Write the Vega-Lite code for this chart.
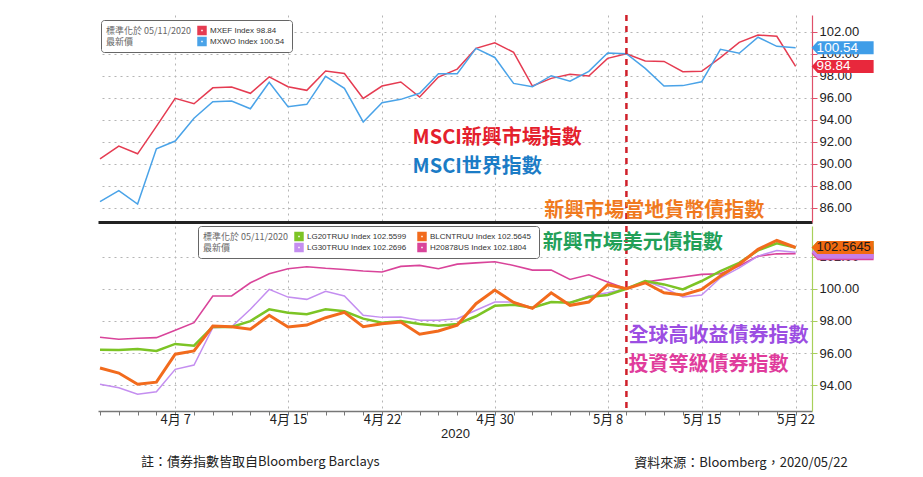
{
  "$schema": "https://vega.github.io/schema/vega-lite/v6.json",
  "background": "white",
  "padding": {"left": 94, "top": 13, "right": 0, "bottom": 0},
  "config": {
    "view": {"stroke": null},
    "font": "Liberation Sans",
    "axis": {"labelOverlap": false},
    "concat": {"spacing": 0}
  },
  "datasets": {
    "equity": [
      {"date": "2020-04-01", "MXEF": 90.43, "MXWO": 86.55},
      {"date": "2020-04-02", "MXEF": 91.60, "MXWO": 87.55},
      {"date": "2020-04-03", "MXEF": 90.90, "MXWO": 86.33},
      {"date": "2020-04-06", "MXEF": 93.40, "MXWO": 91.36},
      {"date": "2020-04-07", "MXEF": 95.94, "MXWO": 92.06},
      {"date": "2020-04-08", "MXEF": 95.45, "MXWO": 94.13},
      {"date": "2020-04-09", "MXEF": 96.90, "MXWO": 95.64},
      {"date": "2020-04-10", "MXEF": 96.97, "MXWO": 95.70},
      {"date": "2020-04-13", "MXEF": 96.40, "MXWO": 95.00},
      {"date": "2020-04-14", "MXEF": 97.90, "MXWO": 97.40},
      {"date": "2020-04-15", "MXEF": 97.00, "MXWO": 95.18},
      {"date": "2020-04-16", "MXEF": 96.67, "MXWO": 95.40},
      {"date": "2020-04-17", "MXEF": 98.43, "MXWO": 97.94},
      {"date": "2020-04-20", "MXEF": 98.20, "MXWO": 96.85},
      {"date": "2020-04-21", "MXEF": 95.94, "MXWO": 93.80},
      {"date": "2020-04-22", "MXEF": 97.06, "MXWO": 95.55},
      {"date": "2020-04-23", "MXEF": 97.43, "MXWO": 95.85},
      {"date": "2020-04-24", "MXEF": 96.06, "MXWO": 96.40},
      {"date": "2020-04-27", "MXEF": 97.88, "MXWO": 98.18},
      {"date": "2020-04-28", "MXEF": 98.60, "MXWO": 98.18},
      {"date": "2020-04-29", "MXEF": 100.49, "MXWO": 100.49},
      {"date": "2020-04-30", "MXEF": 100.99, "MXWO": 99.66},
      {"date": "2020-05-01", "MXEF": 100.13, "MXWO": 97.30},
      {"date": "2020-05-04", "MXEF": 97.06, "MXWO": 97.00},
      {"date": "2020-05-05", "MXEF": 97.76, "MXWO": 98.00},
      {"date": "2020-05-06", "MXEF": 98.13, "MXWO": 97.50},
      {"date": "2020-05-07", "MXEF": 97.97, "MXWO": 98.40},
      {"date": "2020-05-08", "MXEF": 99.58, "MXWO": 100.06},
      {"date": "2020-05-11", "MXEF": 100.00, "MXWO": 100.00},
      {"date": "2020-05-12", "MXEF": 99.34, "MXWO": 98.67},
      {"date": "2020-05-13", "MXEF": 99.30, "MXWO": 97.06},
      {"date": "2020-05-14", "MXEF": 98.37, "MXWO": 97.10},
      {"date": "2020-05-15", "MXEF": 98.40, "MXWO": 97.45},
      {"date": "2020-05-18", "MXEF": 99.64, "MXWO": 100.40},
      {"date": "2020-05-19", "MXEF": 101.03, "MXWO": 100.04},
      {"date": "2020-05-20", "MXEF": 101.70, "MXWO": 101.50},
      {"date": "2020-05-21", "MXEF": 101.58, "MXWO": 100.67},
      {"date": "2020-05-22", "MXEF": 98.84, "MXWO": 100.54}
    ],
    "bonds": [
      {"date": "2020-04-01", "H20878US": 96.98, "LG30TRUU": 94.06, "LG20TRUU": 96.21, "BLCNTRUU": 95.07},
      {"date": "2020-04-02", "H20878US": 96.86, "LG30TRUU": 93.85, "LG20TRUU": 96.19, "BLCNTRUU": 94.76},
      {"date": "2020-04-03", "H20878US": 96.92, "LG30TRUU": 93.44, "LG20TRUU": 96.25, "BLCNTRUU": 94.06},
      {"date": "2020-04-06", "H20878US": 96.96, "LG30TRUU": 93.60, "LG20TRUU": 96.13, "BLCNTRUU": 94.19},
      {"date": "2020-04-07", "H20878US": 97.42, "LG30TRUU": 94.99, "LG20TRUU": 96.57, "BLCNTRUU": 95.93},
      {"date": "2020-04-08", "H20878US": 97.89, "LG30TRUU": 95.26, "LG20TRUU": 96.46, "BLCNTRUU": 96.13},
      {"date": "2020-04-09", "H20878US": 99.55, "LG30TRUU": 97.58, "LG20TRUU": 97.64, "BLCNTRUU": 97.68},
      {"date": "2020-04-10", "H20878US": 99.55, "LG30TRUU": 97.64, "LG20TRUU": 97.62, "BLCNTRUU": 97.64},
      {"date": "2020-04-13", "H20878US": 100.37, "LG30TRUU": 98.72, "LG20TRUU": 97.99, "BLCNTRUU": 97.48},
      {"date": "2020-04-14", "H20878US": 100.93, "LG30TRUU": 99.96, "LG20TRUU": 98.72, "BLCNTRUU": 98.35},
      {"date": "2020-04-15", "H20878US": 101.24, "LG30TRUU": 99.48, "LG20TRUU": 98.51, "BLCNTRUU": 97.62},
      {"date": "2020-04-16", "H20878US": 101.37, "LG30TRUU": 99.34, "LG20TRUU": 98.41, "BLCNTRUU": 97.74},
      {"date": "2020-04-17", "H20878US": 101.27, "LG30TRUU": 99.84, "LG20TRUU": 98.72, "BLCNTRUU": 98.20},
      {"date": "2020-04-20", "H20878US": 101.20, "LG30TRUU": 99.55, "LG20TRUU": 98.60, "BLCNTRUU": 98.53},
      {"date": "2020-04-21", "H20878US": 101.10, "LG30TRUU": 98.35, "LG20TRUU": 98.14, "BLCNTRUU": 97.64},
      {"date": "2020-04-22", "H20878US": 101.04, "LG30TRUU": 98.22, "LG20TRUU": 97.89, "BLCNTRUU": 97.83},
      {"date": "2020-04-23", "H20878US": 101.39, "LG30TRUU": 98.24, "LG20TRUU": 97.99, "BLCNTRUU": 97.93},
      {"date": "2020-04-24", "H20878US": 101.45, "LG30TRUU": 98.04, "LG20TRUU": 97.81, "BLCNTRUU": 97.17},
      {"date": "2020-04-27", "H20878US": 101.24, "LG30TRUU": 98.04, "LG20TRUU": 97.70, "BLCNTRUU": 97.37},
      {"date": "2020-04-28", "H20878US": 101.53, "LG30TRUU": 98.14, "LG20TRUU": 97.81, "BLCNTRUU": 97.74},
      {"date": "2020-04-29", "H20878US": 101.61, "LG30TRUU": 98.66, "LG20TRUU": 98.29, "BLCNTRUU": 99.07},
      {"date": "2020-04-30", "H20878US": 101.68, "LG30TRUU": 99.17, "LG20TRUU": 98.94, "BLCNTRUU": 99.92},
      {"date": "2020-05-01", "H20878US": 101.45, "LG30TRUU": 99.17, "LG20TRUU": 99.00, "BLCNTRUU": 99.15},
      {"date": "2020-05-04", "H20878US": 101.16, "LG30TRUU": 98.82, "LG20TRUU": 98.82, "BLCNTRUU": 98.78},
      {"date": "2020-05-05", "H20878US": 101.16, "LG30TRUU": 99.19, "LG20TRUU": 99.17, "BLCNTRUU": 99.75},
      {"date": "2020-05-06", "H20878US": 100.58, "LG30TRUU": 99.13, "LG20TRUU": 99.13, "BLCNTRUU": 98.97},
      {"date": "2020-05-07", "H20878US": 100.87, "LG30TRUU": 99.55, "LG20TRUU": 99.48, "BLCNTRUU": 99.17},
      {"date": "2020-05-08", "H20878US": 100.42, "LG30TRUU": 99.75, "LG20TRUU": 99.61, "BLCNTRUU": 100.25},
      {"date": "2020-05-11", "H20878US": 100.00, "LG30TRUU": 100.00, "LG20TRUU": 100.00, "BLCNTRUU": 100.00},
      {"date": "2020-05-12", "H20878US": 100.42, "LG30TRUU": 100.48, "LG20TRUU": 100.48, "BLCNTRUU": 100.37},
      {"date": "2020-05-13", "H20878US": 100.58, "LG30TRUU": 100.06, "LG20TRUU": 100.27, "BLCNTRUU": 99.75},
      {"date": "2020-05-14", "H20878US": 100.73, "LG30TRUU": 99.48, "LG20TRUU": 99.96, "BLCNTRUU": 99.61},
      {"date": "2020-05-15", "H20878US": 100.89, "LG30TRUU": 99.61, "LG20TRUU": 100.48, "BLCNTRUU": 99.96},
      {"date": "2020-05-18", "H20878US": 100.93, "LG30TRUU": 100.68, "LG20TRUU": 101.10, "BLCNTRUU": 100.79},
      {"date": "2020-05-19", "H20878US": 101.41, "LG30TRUU": 101.30, "LG20TRUU": 101.61, "BLCNTRUU": 101.52},
      {"date": "2020-05-20", "H20878US": 102.03, "LG30TRUU": 102.03, "LG20TRUU": 102.38, "BLCNTRUU": 102.45},
      {"date": "2020-05-21", "H20878US": 102.17, "LG30TRUU": 102.38, "LG20TRUU": 102.82, "BLCNTRUU": 103.00},
      {"date": "2020-05-22", "H20878US": 102.1804, "LG30TRUU": 102.2696, "LG20TRUU": 102.5599, "BLCNTRUU": 102.5645}
    ],
    "base": [{"date": "2020-05-11"}],
    "notesTop": [
      {"date": "2020-04-24", "value": 92.31, "series": "MXEF", "text": "MSCI新興市場指數"},
      {"date": "2020-04-24", "value": 89.73, "series": "MXWO", "text": "MSCI世界指數"},
      {"date": "2020-05-05", "value": 85.7, "series": "BLCNTRUU", "text": "新興市場當地貨幣債指數"}
    ],
    "notesUsd": [
      {"date": "2020-05-05", "value": 102.86, "series": "LG20TRUU", "text": "新興市場美元債指數"}
    ],
    "notesRight": [
      {"date": "2020-05-11", "value": 97.06, "series": "LG30TRUU", "text": "全球高收益債券指數"},
      {"date": "2020-05-11", "value": 95.25, "series": "H20878US", "text": "投資等級債券指數"}
    ]
  },
  "title": {
    "text": "資料來源：Bloomberg，2020/05/22",
    "orient": "bottom",
    "anchor": "end",
    "font": "Noto Sans CJK TC",
    "fontSize": 13,
    "fontWeight": "normal",
    "color": "#222222",
    "offset": 0,
    "dx": -26,
    "dy": -12
  },
  "vconcat": [
    {
      "width": 714,
      "height": 207,
      "resolve": {"scale": {"color": "independent"}, "axis": {"y": "independent"}},
      "encoding": {
        "x": {
          "field": "date",
          "type": "ordinal",
          "scale": {"type": "point", "padding": 0.489, "align": 0.109},
          "axis": {
            "orient": "bottom",
            "title": null,
            "labels": false,
            "ticks": false,
            "domainColor": "#222222",
            "domainWidth": 3,
            "grid": true,
            "gridColor": "#b5b5b5",
            "gridDash": [2, 4],
            "gridOpacity": {
              "condition": {"test": "indexof(['2020-04-07','2020-04-15','2020-04-22','2020-04-30','2020-05-08','2020-05-15','2020-05-22'], datum.value) >= 0", "value": 1},
              "value": 0
            }
          }
        }
      },
      "layer": [
        {
          "data": {"name": "equity"},
          "transform": [{"fold": ["MXEF", "MXWO"], "as": ["series", "value"]}],
          "mark": {"type": "line", "strokeWidth": 1.5},
          "encoding": {
            "y": {
              "field": "value",
              "type": "quantitative",
              "scale": {"domain": [84.7, 103.52], "nice": false, "zero": false},
              "axis": {
                "orient": "right",
                "title": null,
                "values": [86, 88, 90, 92, 94, 96, 98, 100, 102],
                "format": ".2f",
                "labelOverlap": false,
                "labelFontSize": 13,
                "labelColor": "#222222",
                "labelPadding": 2,
                "domainColor": "#e0506a",
                "domainWidth": 1.2,
                "tickColor": "#e0506a",
                "tickSize": 5,
                "gridColor": "#b5b5b5",
                "gridDash": [2, 4]
              }
            },
            "color": {
              "field": "series",
              "type": "nominal",
              "scale": {"domain": ["MXEF", "MXWO"], "range": ["#e53b51", "#4aa3e8"]},
              "legend": {
                "orient": "none",
                "legendX": 3,
                "legendY": 5,
                "direction": "vertical",
                "title": ["標準化於 05/11/2020", "\u3000\u3000\u3000最新價"],
                "titleOrient": "left",
                "titleAlign": "left",
                "titlePadding": 5,
                "titleFont": "Noto Sans CJK TC",
                "titleFontSize": 9,
                "titleFontWeight": "normal",
                "titleColor": "#666666",
                "titleLineHeight": 11,
                "labelFont": "Liberation Sans",
                "labelFontSize": 8,
                "labelColor": "#333333",
                "labelLimit": 250,
                "labelOffset": 3,
                "labelExpr": "datum.label == 'MXEF' ? 'MXEF Index  98.84' : 'MXWO Index  100.54'",
                "symbolType": "square",
                "symbolSize": 30,
                "symbolStrokeWidth": 4,
                "clipHeight": 11,
                "rowPadding": 0,
                "padding": 5,
                "strokeColor": "#666666",
                "fillColor": "white",
                "cornerRadius": 3
              }
            }
          }
        },
        {
          "data": {"name": "base"},
          "mark": {"type": "rule", "color": "#d0202a", "strokeWidth": 2.5, "strokeDash": [6, 5]},
          "encoding": {}
        },
        {
          "data": {"name": "equity"},
          "transform": [
            {"fold": ["MXWO", "MXEF"], "as": ["series", "value"]},
            {"filter": "datum.date == '2020-05-22'"}
          ],
          "mark": {"type": "point", "shape": "M1.6,0L2.2,-0.65L7.8,-0.65L7.8,0.65L2.2,0.65Z", "size": 400, "filled": true, "opacity": 1, "strokeWidth": 0},
          "encoding": {
            "y": {"field": "value", "type": "quantitative", "axis": null},
            "color": {
              "field": "series",
              "type": "nominal",
              "scale": {"domain": ["MXEF", "MXWO"], "range": ["#e8283c", "#3f9de8"]},
              "legend": null
            }
          }
        },
        {
          "data": {"name": "equity"},
          "transform": [
            {"fold": ["MXWO", "MXEF"], "as": ["series", "value"]},
            {"filter": "datum.date == '2020-05-22'"}
          ],
          "mark": {"type": "text", "align": "left", "baseline": "middle", "dx": 21, "fontSize": 13.5, "color": "white"},
          "encoding": {
            "y": {"field": "value", "type": "quantitative", "axis": null},
            "text": {"field": "value", "type": "quantitative", "format": ".2f"}
          }
        },
        {
          "data": {"name": "notesTop"},
          "mark": {"type": "text", "align": "left", "baseline": "middle", "dx": -7, "font": "Noto Sans CJK TC", "fontWeight": "bold", "fontSize": 20},
          "encoding": {
            "y": {"field": "value", "type": "quantitative", "axis": null},
            "text": {"field": "text"},
            "color": {
              "field": "series",
              "type": "nominal",
              "scale": {"domain": ["MXEF", "MXWO", "BLCNTRUU"], "range": ["#e4202c", "#1b7cc6", "#f07a1e"]},
              "legend": null
            }
          }
        }
      ]
    },
    {
      "width": 714,
      "height": 185,
      "resolve": {"scale": {"color": "independent"}, "axis": {"y": "independent"}},
      "title": {
        "text": "註：債券指數皆取自Bloomberg Barclays",
        "orient": "bottom",
        "anchor": "start",
        "font": "Noto Sans CJK TC",
        "fontSize": 13,
        "fontWeight": "normal",
        "color": "#222222",
        "offset": 16,
        "dx": 47
      },
      "encoding": {
        "x": {
          "field": "date",
          "type": "ordinal",
          "scale": {"type": "point", "padding": 0.489, "align": 0.109},
          "axis": {
            "orient": "bottom",
            "title": "2020",
            "titleFontSize": 13,
            "titleFontWeight": "normal",
            "titleColor": "#222222",
            "titlePadding": 1,
            "labelFont": "Noto Sans CJK TC",
            "labelFontSize": 13,
            "labelColor": "#222222",
            "labelBaseline": "middle",
            "labelPadding": 4,
            "labelOverlap": false,
            "labelAngle": 0,
            "labelExpr": "indexof(['2020-04-07','2020-04-15','2020-04-22','2020-04-30','2020-05-08','2020-05-15','2020-05-22'], datum.value) >= 0 ? toNumber(substring(datum.value, 5, 7)) + '月 ' + toNumber(substring(datum.value, 8, 10)) : ''",
            "ticks": true,
            "tickColor": "#777777",
            "tickSize": 4,
            "domainColor": "#777777",
            "domainWidth": 1.5,
            "grid": true,
            "gridColor": "#b5b5b5",
            "gridDash": [2, 4],
            "gridOpacity": {
              "condition": {"test": "indexof(['2020-04-07','2020-04-15','2020-04-22','2020-04-30','2020-05-08','2020-05-15','2020-05-22'], datum.value) >= 0", "value": 1},
              "value": 0
            }
          }
        }
      },
      "layer": [
        {
          "data": {"name": "bonds"},
          "transform": [{"fold": ["H20878US", "LG30TRUU", "LG20TRUU", "BLCNTRUU"], "as": ["series", "value"]}],
          "mark": {"type": "line"},
          "encoding": {
            "y": {
              "field": "value",
              "type": "quantitative",
              "scale": {"domain": [92.4, 103.9], "nice": false, "zero": false},
              "axis": {
                "orient": "right",
                "title": null,
                "values": [94, 96, 98, 100, 102],
                "format": ".2f",
                "labelOverlap": false,
                "labelFontSize": 13,
                "labelColor": "#222222",
                "labelPadding": 2,
                "domainColor": "#a8d05a",
                "domainWidth": 1.2,
                "tickColor": "#a8d05a",
                "tickSize": 5,
                "gridColor": "#b5b5b5",
                "gridDash": [2, 4]
              }
            },
            "color": {
              "field": "series",
              "type": "nominal",
              "scale": {
                "domain": ["LG20TRUU", "BLCNTRUU", "LG30TRUU", "H20878US"],
                "range": ["#7cc425", "#f26b1d", "#c48ef0", "#d9449a"]
              },
              "legend": {
                "orient": "none",
                "legendX": 100,
                "legendY": 0,
                "direction": "horizontal",
                "columns": 2,
                "columnPadding": 8,
                "title": ["標準化於 05/11/2020", "\u3000\u3000\u3000最新價"],
                "titleOrient": "left",
                "titleAlign": "left",
                "titlePadding": 5,
                "titleFont": "Noto Sans CJK TC",
                "titleFontSize": 9,
                "titleFontWeight": "normal",
                "titleColor": "#666666",
                "titleLineHeight": 11,
                "labelFont": "Liberation Sans",
                "labelFontSize": 8,
                "labelColor": "#333333",
                "labelLimit": 250,
                "labelOffset": 3,
                "labelExpr": "datum.label == 'LG20TRUU' ? 'LG20TRUU Index  102.5599' : datum.label == 'BLCNTRUU' ? 'BLCNTRUU Index  102.5645' : datum.label == 'LG30TRUU' ? 'LG30TRUU Index  102.2696' : 'H20878US Index  102.1804'",
                "symbolType": "square",
                "symbolSize": 30,
                "symbolStrokeWidth": 4,
                "clipHeight": 11,
                "rowPadding": 0,
                "padding": 5,
                "strokeColor": "#666666",
                "fillColor": "white",
                "cornerRadius": 3
              }
            },
            "strokeWidth": {
              "field": "series",
              "type": "nominal",
              "scale": {
                "type": "ordinal",
                "domain": ["LG20TRUU", "BLCNTRUU", "LG30TRUU", "H20878US"],
                "range": [2.5, 3, 1.5, 1.6]
              },
              "legend": null
            }
          }
        },
        {
          "data": {"name": "base"},
          "mark": {"type": "rule", "color": "#d0202a", "strokeWidth": 2.5, "strokeDash": [6, 5]},
          "encoding": {}
        },
        {
          "data": {"name": "bonds"},
          "transform": [
            {"fold": ["H20878US", "LG30TRUU", "LG20TRUU", "BLCNTRUU"], "as": ["series", "value"]},
            {"filter": "datum.date == '2020-05-22'"}
          ],
          "mark": {"type": "point", "shape": "M1.6,0L2.2,-0.65L7.8,-0.65L7.8,0.65L2.2,0.65Z", "size": 400, "filled": true, "opacity": 1, "strokeWidth": 0},
          "encoding": {
            "y": {"field": "value", "type": "quantitative", "axis": null},
            "color": {
              "field": "series",
              "type": "nominal",
              "scale": {
                "domain": ["LG20TRUU", "BLCNTRUU", "LG30TRUU", "H20878US"],
                "range": ["#7cc425", "#f26a10", "#c77ee8", "#d9449a"]
              },
              "legend": null
            }
          }
        },
        {
          "data": {"name": "bonds"},
          "transform": [
            {"fold": ["BLCNTRUU"], "as": ["series", "value"]},
            {"filter": "datum.date == '2020-05-22'"}
          ],
          "mark": {"type": "text", "align": "left", "baseline": "middle", "dx": 21, "fontSize": 13, "color": "#1a1a1a"},
          "encoding": {
            "y": {"field": "value", "type": "quantitative", "axis": null},
            "text": {"field": "value", "type": "quantitative", "format": ".4f"}
          }
        },
        {
          "data": {"name": "notesUsd"},
          "mark": {"type": "text", "align": "left", "baseline": "middle", "dx": -8.5, "font": "Noto Sans CJK TC", "fontWeight": "bold", "fontSize": 20},
          "encoding": {
            "y": {"field": "value", "type": "quantitative", "axis": null},
            "text": {"field": "text"},
            "color": {
              "field": "series",
              "type": "nominal",
              "scale": {"domain": ["LG20TRUU"], "range": ["#22a058"]},
              "legend": null
            }
          }
        },
        {
          "data": {"name": "notesRight"},
          "mark": {"type": "text", "align": "left", "baseline": "middle", "dx": 2, "font": "Noto Sans CJK TC", "fontWeight": "bold", "fontSize": 20},
          "encoding": {
            "y": {"field": "value", "type": "quantitative", "axis": null},
            "text": {"field": "text"},
            "color": {
              "field": "series",
              "type": "nominal",
              "scale": {"domain": ["LG30TRUU", "H20878US"], "range": ["#9c4ee2", "#e03c9c"]},
              "legend": null
            }
          }
        }
      ]
    }
  ]
}
